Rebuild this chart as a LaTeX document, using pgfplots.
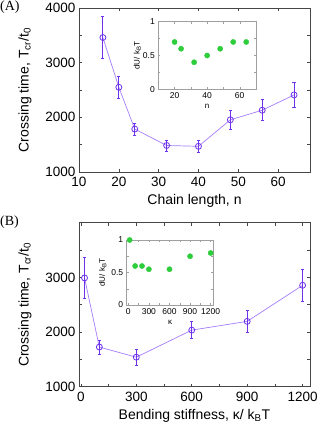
\documentclass[border=0pt]{standalone}
\usepackage{pgfplots}
\pgfplotsset{compat=1.18}
\usepackage{fontspec}
\setmainfont{Liberation Sans}
\newfontfamily\seriffont{Liberation Serif}
\definecolor{pline}{RGB}{165,125,250}
\definecolor{pmark}{RGB}{110,50,235}
\definecolor{gdot}{RGB}{45,205,60}
\definecolor{frame}{RGB}{70,70,70}

\pgfplotsset{
 mainax/.style={scale only axis, width=231pt, height=164pt, anchor=south west,
   axis line style={frame, line width=0.8pt}, tick style={frame, line width=0.6pt},
   tick align=inside, major tick length=3pt, minor tick length=3pt,
   ticklabel style={font=\fontsize{13.5}{14}\selectfont},
   xticklabel style={yshift=-2pt},
   label style={font=\fontsize{14}{15}\selectfont},
   /pgf/number format/assume math mode=true,
   /pgf/number format/1000 sep={},
   ymin=1000, ymax=4000, minor ytick={1500,2500,3500},
   ylabel style={at={(axis description cs:-0.234,0.5)}, anchor=center},
   xlabel style={at={(axis description cs:0.5,0)}, anchor=center, yshift=-29pt},
 },
 inax/.style={scale only axis, anchor=south west, axis background/.style={fill=white},
   axis line style={gray!75, line width=0.6pt}, tick style={gray!75, line width=0.4pt},
   tick align=inside, major tick length=2pt, minor tick length=2pt,
   ticklabel style={font=\fontsize{8.5}{9}\selectfont},
   label style={font=\fontsize{8}{9}\selectfont},
   /pgf/number format/assume math mode=true, /pgf/number format/1000 sep={},
   ymin=0, ymax=1, ytick={0,0.5,1}, minor ytick={0.25,0.75},
   yticklabel style={/pgf/number format/fixed},
   xlabel style={at={(axis description cs:0.5,0)}, anchor=center, yshift=-17pt},
 },
 lineplot/.style={pline, line width=0.7pt, no marks, forget plot},
 markplot/.style={only marks, pmark, mark=o, mark size=3pt, mark options={line width=0.8pt},
   error bars/.cd, y dir=both, y explicit, error mark=-,
   error mark options={pmark, line width=0.8pt, mark size=1.6pt, rotate=90},
   error bar style={pmark, line width=1.1pt}},
 dotplot/.style={only marks, gdot, mark=*, mark size=2.6pt, mark options={draw=gdot, fill=gdot}},
}

\pgfplotstableread{
n   t     e
16  3460  390
20  2550  200
24  1785  110
32  1485  100
40  1470  110
48  1955  180
56  2130  195
64  2410  230
}\dataA

\pgfplotstableread{
k    t     e
20   2990  380
100  1725  125
300  1540  150
600  2035  160
900  2195  200
1200 2855  290
}\dataB

\pgfplotstableread{
n   u
20  0.7
24  0.6
32  0.4
40  0.5
48  0.6
56  0.7
64  0.7
}\insA

\pgfplotstableread{
k    u
20   1.0
100  0.6
200  0.6
300  0.55
600  0.55
900  0.75
1200 0.8
}\insB

\begin{document}
\begin{tikzpicture}
\useasboundingbox (0,0) rectangle (323pt,429pt);

% Panel A
\begin{axis}[mainax, at={(79pt,257pt)},
  xmin=10, xmax=68, xtick={10,20,30,40,50,60},
  ytick={1000,2000,3000,4000},
  xlabel={Chain length, n},
  ylabel={Crossing time, T\textsubscript{cr}/t\textsubscript{0}}]
\addplot[lineplot] table[x=n, y=t] {\dataA};
\addplot[markplot] table[x=n, y=t, y error=e] {\dataA};
\end{axis}

\begin{axis}[inax, at={(158.3pt,339.7pt)}, width=97.7pt, height=67.6pt,
  xmin=10, xmax=70, xtick={20,40,60}, minor xtick={10,30,50,70},
  xlabel={n}, ylabel={dU/ k\textsubscript{B}T},
  ylabel style={at={(axis description cs:-0.215,0.5)}, anchor=center}]
\addplot[dotplot] table[x=n, y=u] {\insA};
\end{axis}

% Panel B
\begin{axis}[mainax, at={(79pt,42.3pt)},
  xmin=-10, xmax=1240, xtick={0,300,600,900,1200}, minor xtick={150,450,750,1050},
  ytick={1000,2000,3000},
  xlabel={Bending stiffness, κ/ k\textsubscript{B}T},
  ylabel={Crossing time, T\textsubscript{cr}/t\textsubscript{0}}]
\addplot[lineplot] table[x=k, y=t] {\dataB};
\addplot[markplot] table[x=k, y=t, y error=e] {\dataB};
\end{axis}

\begin{axis}[inax, at={(126.7pt,124pt)}, width=86.6pt, height=65pt,
  xmin=-23, xmax=1238, xtick={0,300,600,900,1200}, minor xtick={150,450,750,1050},
  xlabel={κ}, ylabel={dU/ k\textsubscript{B}T},
  ylabel style={at={(axis description cs:-0.277,0.5)}, anchor=center}]
\addplot[dotplot] table[x=k, y=u] {\insB};
\end{axis}

\node[anchor=north west, inner sep=0pt, font=\seriffont\fontsize{14}{15}\selectfont] at (0pt,428pt) {(A)};
\node[anchor=north west, inner sep=0pt, font=\seriffont\fontsize{14}{15}\selectfont] at (0pt,213pt) {(B)};
\end{tikzpicture}
\end{document}
